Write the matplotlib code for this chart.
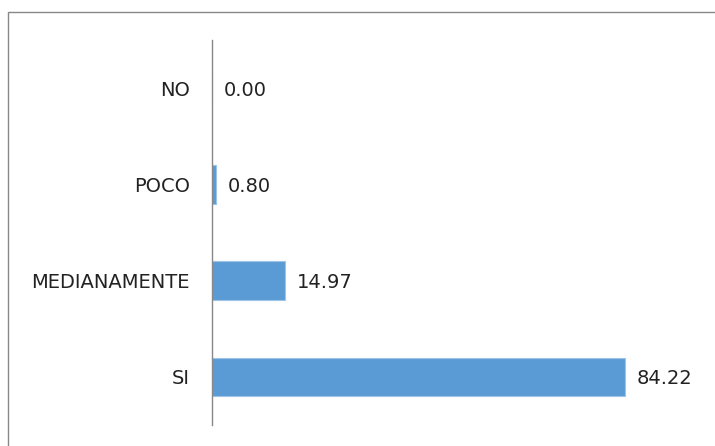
import matplotlib.pyplot as plt
from matplotlib.patches import Rectangle

categories = ["NO", "POCO", "MEDIANAMENTE", "SI"]
values = [0.00, 0.80, 14.97, 84.22]
labels = ["0.00", "0.80", "14.97", "84.22"]

plt.rcParams['font.family'] = ['DejaVu Sans']

fig = plt.figure(figsize=(7.15, 4.46), dpi=100)
ax = fig.add_axes([212 / 715, 21 / 446, 490 / 715, 385 / 446])

# outer chart border
fig.patches.append(Rectangle((8 / 715, -0.05), 1.0, (446 - 12) / 446 + 0.05,
                             transform=fig.transFigure, fill=False,
                             edgecolor="#888888", linewidth=1.0))

ypos = list(range(len(categories)))[::-1]
ax.barh(ypos, values, height=0.4, color="#5B9BD5", edgecolor="#9DC3E6", linewidth=0.8)

for y, v, lab in zip(ypos, values, labels):
    ax.text(v + 2.4, y - 0.02, lab, va="center", ha="left", fontsize=14, color="#222222")

ax.set_xlim(0, 100)
ax.set_ylim(-0.5, 3.5)
ax.set_yticks(ypos)
ax.set_yticklabels(categories, fontsize=14, color="#222222")
ax.tick_params(axis="y", length=0, pad=16)
ax.set_xticks([])
for s in ["top", "right", "bottom"]:
    ax.spines[s].set_visible(False)
ax.spines["left"].set_color("#888888")
ax.spines["left"].set_linewidth(1.0)

fig.savefig("out.png", dpi=100)
